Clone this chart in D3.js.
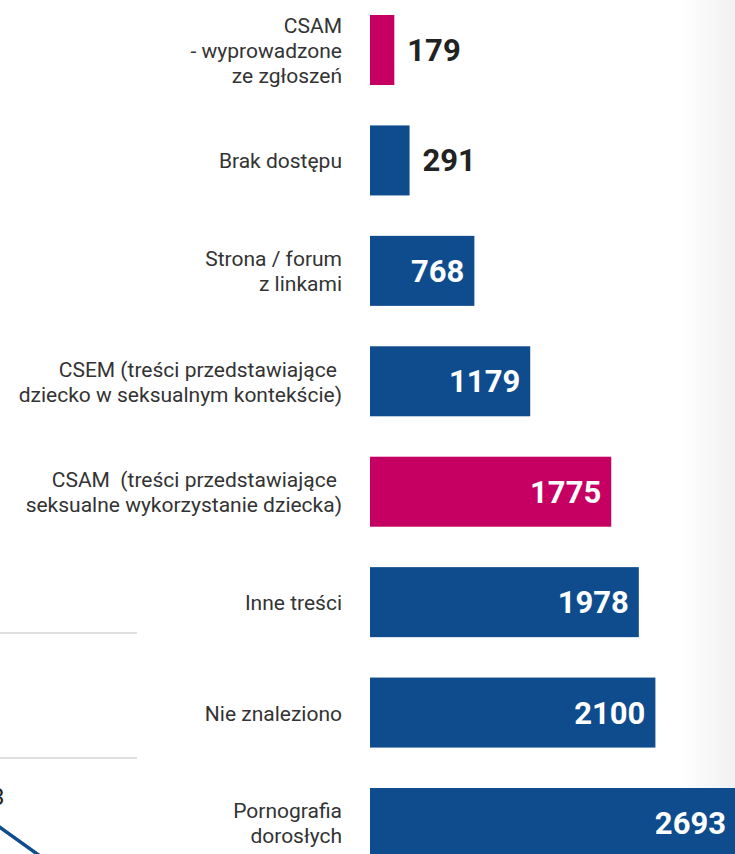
<!DOCTYPE html>
<html>
<head>
<meta charset="utf-8">
<script src="https://cdn.jsdelivr.net/npm/d3@7"></script>
<style>
  html, body { margin: 0; padding: 0; background: #ffffff; }
  svg { display: block; }
</style>
</head>
<body>
<svg id="chart" width="735" height="854"></svg>
<script>
// ---- data ----
const categories = [
  "CSAM\n- wyprowadzone\nze zgłoszeń",
  "Brak dostępu",
  "Strona / forum\nz linkami",
  "CSEM (treści przedstawiające \ndziecko w seksualnym kontekście)",
  "CSAM  (treści przedstawiające \nseksualne wykorzystanie dziecka)",
  "Inne treści",
  "Nie znaleziono",
  "Pornografia\ndorosłych"
];
const values = [179, 291, 768, 1179, 1775, 1978, 2100, 2693];
const highlight = [true, false, false, false, true, false, false, false];

// ---- setup ----
const W = 735, H = 854;
const svg = d3.select("#chart");
const blue = "#0e4c8e", magenta = "#c60062";

// background page shadow gradient on the right
const defs = svg.append("defs");
const grad = defs.append("linearGradient").attr("id", "shade").attr("x1", "0").attr("x2", "1").attr("y1", "0").attr("y2", "0");
grad.append("stop").attr("offset", "0%").attr("stop-color", "#ffffff");
grad.append("stop").attr("offset", "100%").attr("stop-color", "#f1f1f1");
svg.append("rect").attr("x", 680).attr("y", 0).attr("width", 55).attr("height", H).attr("fill", "url(#shade)");

// fragments of neighbouring chart at left
svg.append("line").attr("x1", 0).attr("x2", 137).attr("y1", 633).attr("y2", 633).attr("stroke", "#d6d6d6").attr("stroke-width", 1.5);
svg.append("line").attr("x1", 0).attr("x2", 137).attr("y1", 758).attr("y2", 758).attr("stroke", "#d6d6d6").attr("stroke-width", 1.5);
svg.append("text").attr("x", -9).attr("y", 805).attr("font-family", "Roboto").attr("font-size", 24).attr("fill", "#222").text("3");
svg.append("line").attr("x1", -2).attr("y1", 826).attr("x2", 40).attr("y2", 856).attr("stroke", blue).attr("stroke-width", 3.5);

const x = d3.scaleLinear().domain([0, 2693]).range([370, 736]);
const y = d3.scaleBand().domain(categories).range([15, 858]).paddingInner(0.366).paddingOuter(0);

const rows = svg.append("g").selectAll("g").data(categories).join("g");

rows.append("rect")
  .attr("x", x(0))
  .attr("y", d => y(d))
  .attr("width", (d, i) => x(values[i]) - x(0))
  .attr("height", y.bandwidth())
  .attr("fill", (d, i) => highlight[i] ? magenta : blue);

// category labels
const lh = 25;
rows.each(function(d) {
  const lines = d.split("\n");
  const cy = y(d) + y.bandwidth() / 2;
  const t = d3.select(this).append("text")
    .attr("text-anchor", "end")
    .attr("font-family", "Roboto")
    .attr("font-size", 21)
    .attr("fill", "#333333");
  lines.forEach((ln, k) => {
    t.append("tspan")
      .attr("x", 342)
      .attr("y", cy + 8 + (k - (lines.length - 1) / 2) * lh)
      .attr("xml:space", "preserve")
      .text(ln);
  });
});

// value labels
rows.append("text")
  .attr("font-family", "Roboto")
  .attr("font-weight", "bold")
  .attr("font-size", 31)
  .attr("y", d => y(d) + y.bandwidth() / 2 + 11)
  .attr("x", (d, i) => values[i] < 500 ? x(values[i]) + 13 : x(values[i]) - 10)
  .attr("text-anchor", (d, i) => values[i] < 500 ? "start" : "end")
  .attr("fill", (d, i) => values[i] < 500 ? "#222222" : "#ffffff")
  .text((d, i) => values[i]);
</script>
</body>
</html>
